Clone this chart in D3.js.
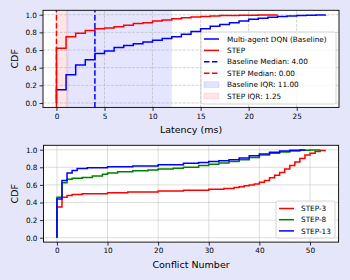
<!DOCTYPE html>
<html><head><meta charset="utf-8">
<script src="https://cdn.jsdelivr.net/npm/d3@7"></script>
<style>
html,body{margin:0;padding:0;background:#e6e6fa;}
svg{display:block;font-family:"DejaVu Sans",sans-serif;}
</style></head>
<body><svg id="c" width="350" height="280"></svg>
<script>
// ---- Data: Latency CDF (top) ----
const baselineLatency = [0,1,2,3,4,5,6,7,8,9,10,11,12,13,14,15,16,17,18,19,20,21,22,23,24,25,26,27,28];
const baselineCdf = [0.15,0.32,0.43,0.49,0.56,0.59,0.63,0.65,0.67,0.69,0.71,0.73,0.75,0.78,0.81,0.84,0.87,0.89,0.91,0.93,0.95,0.96,0.97,0.98,0.985,0.99,0.995,0.998,1.0];
const stepLatency = [0,1,2,3,4,5,6,7,8,9,10,11,12,13,14,15,16,17,18,19,20,21,22,23];
const stepCdf = [0.62,0.75,0.79,0.82,0.84,0.85,0.865,0.88,0.90,0.91,0.93,0.94,0.955,0.965,0.975,0.98,0.985,0.99,0.99,0.993,0.995,0.997,0.998,1.0];
const baselineMedian = 4.0, stepMedian = 0.0;
const baselineIqr = [1, 12], stepIqr = [0, 1.25];
const topLegend = ["Multi-agent DQN (Baseline)","STEP","Baseline Median: 4.00","STEP Median: 0.00","Baseline IQR: 11.00","STEP IQR: 1.25"];
const topXTicks = [0,5,10,15,20,25];
const yTicks = [0.0,0.2,0.4,0.6,0.8,1.0];

// ---- Data: Conflict number CDF (bottom) ----
const conflictNames = ["STEP-3","STEP-8","STEP-13"];
const step3X =   [0,1,2,3,5,10,14,20,25,30,33,35,36,37,38,39,40,41,42,43,44,45,46,47,48,49,50,51,52,53];
const step3Cdf = [0.35,0.46,0.48,0.49,0.50,0.51,0.52,0.53,0.54,0.55,0.56,0.57,0.58,0.59,0.60,0.61,0.63,0.65,0.68,0.71,0.74,0.78,0.82,0.86,0.90,0.94,0.96,0.98,0.99,1.0];
const step8X =   [0,1,2,3,5,7,9,10,12,15,18,20,23,25,28,30,32,34,36,38,40,42,44,46,48,50,52];
const step8Cdf = [0.46,0.625,0.665,0.675,0.685,0.70,0.72,0.735,0.75,0.76,0.77,0.78,0.79,0.80,0.82,0.835,0.85,0.865,0.885,0.91,0.94,0.96,0.975,0.985,0.993,0.997,1.0];
const step13X =   [0,1,2,3,4,6,10,15,20,25,28,30,32,34,36,38,40,42,44,46,48,49];
const step13Cdf = [0.44,0.65,0.735,0.765,0.785,0.795,0.805,0.815,0.83,0.845,0.855,0.865,0.875,0.885,0.905,0.93,0.95,0.97,0.985,0.993,0.998,1.0];
const botXTicks = [0,10,20,30,40,50];

const svg = d3.select("#c");
const FS = 7.3;

function drawAxes(g, x, y, xTicks, yTicksArr, gridDashed) {
  const [x0,x1] = x.range(), [y0,y1] = y.range();
  g.append("rect").attr("x",x0).attr("y",y1).attr("width",x1-x0).attr("height",y0-y1).attr("fill","#fff");
}
function drawGrid(g, x, y, xTicks, yTicksArr, dashed) {
  const [x0,x1] = x.range(), [y0,y1] = y.range();
  const gg = g.append("g");
  const st = dashed ? {c:"#b0b0b0", w:0.8, d:"2.96,1.28", o:0.7} : {c:"#b0b0b0", w:0.8, d:null, o:0.5};
  xTicks.forEach(t=>gg.append("line").attr("x1",x(t)).attr("x2",x(t)).attr("y1",y0).attr("y2",y1)
    .attr("stroke",st.c).attr("stroke-width",st.w).attr("stroke-dasharray",st.d).attr("opacity",st.o));
  yTicksArr.forEach(t=>gg.append("line").attr("y1",y(t)).attr("y2",y(t)).attr("x1",x0).attr("x2",x1)
    .attr("stroke",st.c).attr("stroke-width",st.w).attr("stroke-dasharray",st.d).attr("opacity",st.o));
}
function drawFrame(g, x, y, xTicks, yTicksArr, xLabel, xLabelY) {
  const [x0,x1] = x.range(), [y0,y1] = y.range();
  const xa = g.append("g").attr("transform",`translate(0,${y0})`)
    .call(d3.axisBottom(x).tickValues(xTicks).tickFormat(d3.format("d")).tickSize(3.5).tickPadding(2.5));
  const ya = g.append("g").attr("transform",`translate(${x0},0)`)
    .call(d3.axisLeft(y).tickValues(yTicksArr).tickFormat(d3.format(".1f")).tickSize(3.5).tickPadding(2.5));
  [xa,ya].forEach(a=>{
    a.select(".domain").remove();
    a.selectAll("text").attr("font-size",FS).attr("fill","#000").attr("font-family","DejaVu Sans");
    a.selectAll("line").attr("stroke","#000").attr("stroke-width",0.8);
  });
  g.append("rect").attr("x",x0).attr("y",y1).attr("width",x1-x0).attr("height",y0-y1)
    .attr("fill","none").attr("stroke","#000").attr("stroke-width",0.9);
  g.append("text").attr("x",(x0+x1)/2).attr("y",xLabelY).attr("text-anchor","middle")
    .attr("font-size",9.5).text(xLabel);
  g.append("text").attr("transform",`translate(18,${(y0+y1)/2}) rotate(-90)`).attr("text-anchor","middle")
    .attr("font-size",9.5).text("CDF");
}
function stepPath(x, y, xs, vs) {
  const pts = [[xs[0],0]].concat(xs.map((d,i)=>[d,vs[i]]));
  return d3.line().x(d=>x(d[0])).y(d=>y(d[1])).curve(d3.curveStepAfter)(pts);
}

// ---------- Top chart ----------
const xT = d3.scaleLinear().domain([-1.4, 29.4]).range([43, 339]);
const yT = d3.scaleLinear().domain([-0.05, 1.05]).range([107.4, 10.3]);
const gT = svg.append("g");
drawAxes(gT, xT, yT);
gT.append("rect").attr("x",xT(baselineIqr[0])).attr("width",xT(baselineIqr[1])-xT(baselineIqr[0]))
  .attr("y",yT.range()[1]).attr("height",yT.range()[0]-yT.range()[1]).attr("fill","blue").attr("fill-opacity",0.1);
gT.append("rect").attr("x",xT(stepIqr[0])).attr("width",xT(stepIqr[1])-xT(stepIqr[0]))
  .attr("y",yT.range()[1]).attr("height",yT.range()[0]-yT.range()[1]).attr("fill","red").attr("fill-opacity",0.1);
drawGrid(gT, xT, yT, topXTicks, yTicks, true);
gT.append("path").attr("d",stepPath(xT,yT,baselineLatency,baselineCdf)).attr("fill","none").attr("stroke","blue").attr("stroke-width",1.5);
gT.append("path").attr("d",stepPath(xT,yT,stepLatency,stepCdf)).attr("fill","none").attr("stroke","red").attr("stroke-width",1.5);
gT.append("line").attr("x1",xT(baselineMedian)).attr("x2",xT(baselineMedian)).attr("y1",yT.range()[0]).attr("y2",yT.range()[1])
  .attr("stroke","blue").attr("stroke-width",1.5).attr("stroke-dasharray","5.5,2.4");
gT.append("line").attr("x1",xT(stepMedian)).attr("x2",xT(stepMedian)).attr("y1",yT.range()[0]).attr("y2",yT.range()[1])
  .attr("stroke","red").attr("stroke-width",1.5).attr("stroke-dasharray","5.5,2.4");
drawFrame(gT, xT, yT, topXTicks, yTicks, "Latency (ms)", 133);

// top legend
const lgT = gT.append("g");
lgT.append("rect").attr("x",201).attr("y",32).attr("width",135).attr("height",72).attr("rx",2)
  .attr("fill","#fff").attr("fill-opacity",0.8).attr("stroke","#cccccc").attr("stroke-width",0.8);
const topStyles = [
  {t:"line",c:"blue",d:null},{t:"line",c:"red",d:null},
  {t:"line",c:"blue",d:"5.5,2.4"},{t:"line",c:"red",d:"5.5,2.4"},
  {t:"patch",c:"blue"},{t:"patch",c:"red"}];
topLegend.forEach((lab,i)=>{
  const yy = 39 + i*11.4;
  const s = topStyles[i];
  if (s.t==="line") lgT.append("line").attr("x1",204).attr("x2",219).attr("y1",yy).attr("y2",yy)
      .attr("stroke",s.c).attr("stroke-width",1.5).attr("stroke-dasharray",s.d);
  else lgT.append("rect").attr("x",204).attr("y",yy-2.8).attr("width",15).attr("height",5.6)
      .attr("fill",s.c).attr("fill-opacity",0.1).attr("stroke",s.c).attr("stroke-opacity",0.1);
  lgT.append("text").attr("x",227).attr("y",yy+2.6).attr("font-size",FS).text(lab);
});

// ---------- Bottom chart ----------
const xB = d3.scaleLinear().domain([-2.65, 55.65]).range([43.5, 338.6]);
const yB = d3.scaleLinear().domain([-0.05, 1.05]).range([242.1, 145.3]);
const gB = svg.append("g");
drawAxes(gB, xB, yB);
drawGrid(gB, xB, yB, botXTicks, yTicks, false);
const series = [{x:step3X,v:step3Cdf,c:"red"},{x:step8X,v:step8Cdf,c:"green"},{x:step13X,v:step13Cdf,c:"blue"}];
series.forEach(s=>gB.append("path").attr("d",stepPath(xB,yB,s.x,s.v)).attr("fill","none").attr("stroke",s.c).attr("stroke-width",1.5));
drawFrame(gB, xB, yB, botXTicks, yTicks, "Conflict Number", 268);
const lgB = gB.append("g");
lgB.append("rect").attr("x",276).attr("y",201).attr("width",59).attr("height",37).attr("rx",2)
  .attr("fill","#fff").attr("fill-opacity",0.8).attr("stroke","#cccccc").attr("stroke-width",0.8);
conflictNames.forEach((lab,i)=>{
  const yy = 208.5 + i*11.2;
  lgB.append("line").attr("x1",279).attr("x2",294).attr("y1",yy).attr("y2",yy).attr("stroke",series[i].c).attr("stroke-width",1.5);
  lgB.append("text").attr("x",301).attr("y",yy+2.6).attr("font-size",FS).text(lab);
});
</script></body></html>
